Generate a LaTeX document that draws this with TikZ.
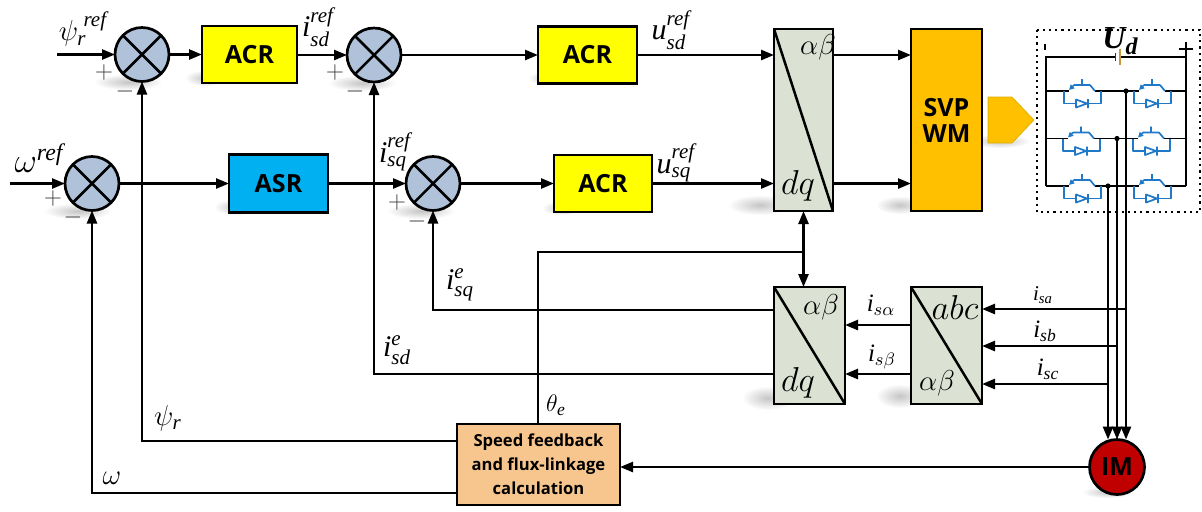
\documentclass[tikz,border=0pt]{standalone}
\usepackage{fontspec}
\usepackage{amsmath}
\newfontfamily\lblfont{Open Sans}
\newfontfamily\mi{Liberation Serif}
\newcommand\mt[1]{\text{\mi\itshape #1}}
\usetikzlibrary{arrows.meta,fadings,calc}
\definecolor{sumfill}{HTML}{AFC2DA}
\definecolor{conv}{HTML}{DCE2D3}
\definecolor{acrc}{HTML}{FFFF00}
\definecolor{asrc}{HTML}{00B0F0}
\definecolor{svpc}{HTML}{FFC000}
\definecolor{fbc}{HTML}{F7C68F}
\definecolor{imc}{HTML}{C00000}
\definecolor{igbtc}{HTML}{1F78C8}
\definecolor{batc}{HTML}{C49A3A}
\tikzfading[name=softf,inner color=transparent!55,outer color=transparent!100]
\tikzset{
  x=.5pt,y=-.5pt,
  wire/.style={line width=1.25pt,black},
  arr/.style={wire,-{Triangle[length=6.5pt,width=5pt]}},
  darr/.style={wire,{Triangle[length=6.5pt,width=5pt]}-{Triangle[length=6.5pt,width=5pt]}},
  block/.style={draw=black,line width=1.25pt,inner sep=0pt,outer sep=0pt,font=\lblfont\bfseries\fontsize{12.5}{14}\selectfont,align=center},
  sumj/.style={circle,draw=black,line width=1.35pt,fill=sumfill,minimum size=27pt,inner sep=0pt,outer sep=0pt,
    path picture={\draw[line width=1.25pt] (path picture bounding box.center) +(-20,-20) -- +(20,20) +(-20,20) -- +(20,-20);}},
  conv/.style={draw=black,line width=1.35pt,fill=conv,inner sep=0pt,outer sep=0pt,
    path picture={\draw[line width=1.25pt] (path picture bounding box.north west) -- (path picture bounding box.south east);}},
  mlab/.style={inner sep=0pt,font=\fontsize{15}{17}\selectfont},
  slab/.style={inner sep=0pt,font=\fontsize{12.5}{14}\selectfont},
  clab/.style={inner sep=0pt,font=\fontsize{17}{19}\selectfont},
  glab/.style={inner sep=0pt,font=\fontsize{14.5}{17}\selectfont},
  sign/.style={inner sep=0pt,text=black!75,font=\fontsize{12}{12}\selectfont},
  igbt/.style={igbtc,line width=.85pt,line join=round},
  rail/.style={line width=.9pt,black},
  shad/.style={black,path fading=softf,opacity=.5},
}
\newcommand\softsh[4]{\fill[shad] (#1,#2) ellipse [x radius=#3,y radius=#4];}
\newcommand\igbtunit[2]{%
  \draw[igbt] (#1,#2-12) -- (#1,#2-6) (#1-8,#2-6) -- (#1+8,#2-6) (#1+8,#2-6) -- (#1+13,#2);
  \draw[igbt,-{Triangle[length=2.6pt,width=2.6pt]}] (#1-8,#2-6) -- (#1-13,#2-1);
  \draw[igbt] (#1-18,#2) -- (#1-18,#2+12.5) -- (#1-6,#2+12.5) (#1+6,#2+12.5) -- (#1+19,#2+12.5) -- (#1+19,#2);
  \draw[igbt] (#1-6,#2+8.5) -- (#1-6,#2+16.5) -- (#1+5,#2+12.5) -- cycle (#1+6,#2+8) -- (#1+6,#2+17);
}
\begin{document}
\begin{tikzpicture}
\useasboundingbox (0,0) rectangle (1202,511);
% soft shadows
\softsh{128}{82}{34}{8}\softsh{362}{83}{34}{8}\softsh{78}{211}{34}{8}\softsh{421}{211}{34}{8}
\softsh{205}{78}{20}{8}\softsh{236}{207}{22}{8}\softsh{548}{78}{20}{7}\softsh{562}{208}{20}{7}
\softsh{760}{205}{32}{10}\softsh{900}{205}{24}{9}\softsh{1000}{141}{30}{7}\softsh{768}{398}{26}{12}\softsh{900}{396}{24}{12}
\softsh{1108}{492}{26}{6}
% blocks
\node[sumj] (s1) at (142,54.5) {};
\node[sumj] (s2) at (374,55) {};
\node[sumj] (s3) at (92,183.5) {};
\node[sumj] (s4) at (433,183.5) {};
\node[block,fill=acrc,minimum width=47.5pt,minimum height=28.5pt] (acr1) at (249.5,54.5) {ACR};
\node[block,fill=acrc,minimum width=49.5pt,minimum height=28.5pt] (acr2) at (587.5,55) {ACR};
\node[block,fill=acrc,minimum width=49pt,minimum height=28.5pt] (acr3) at (603,183.5) {ACR};
\node[block,fill=asrc,minimum width=49.5pt,minimum height=29pt] (asr) at (278.5,183.5) {ASR};
\node[conv,minimum width=29.5pt,minimum height=91pt] (dq1) at (803.5,120) {};
\node[block,fill=svpc,minimum width=35.5pt,minimum height=91pt] (svp) at (946.5,120) {SVP\\[-1pt]WM};
\node[conv,minimum width=35.5pt,minimum height=58.5pt] (dq2) at (809.5,345.5) {};
\node[conv,minimum width=35.5pt,minimum height=58.5pt] (abc) at (946.5,345.5) {};
\node[block,fill=fbc,minimum width=81.5pt,minimum height=40.5pt,font=\lblfont\bfseries\fontsize{8.3}{12}\selectfont] (fb) at (538.5,464.5) {Speed feedback\\and flux-linkage\\calculation};
\node[circle,draw=black,line width=1.35pt,fill=imc,minimum size=27.5pt,inner sep=0pt,outer sep=0pt,font=\lblfont\bfseries\fontsize{12.5}{14}\selectfont] (im) at (1117,467) {IM};
% converter labels
\node[glab] (l1) at (818,47) {$\alpha\beta$};
\node[clab] (l2) at (798,186) {$dq$};
\node[glab] (l3) at (821,307) {$\alpha\beta$};
\node[clab] (l4) at (798,383) {$dq$};
\node[clab] (l5) at (955,307) {$abc$};
\node[glab] (l6) at (937,383) {$\alpha\beta$};
% free ends
\coordinate (psiin) at (57,54.5);
\coordinate (omin) at (10,183.5);
\coordinate (tha) at (1126,309);
\coordinate (thb) at (1117,346);
\coordinate (thc) at (1108,384);
\coordinate (tj) at (804,252);
\coordinate (ta) at (1126,91);
\coordinate (tb) at (1117,138.5);
\coordinate (tc) at (1108,186);
% forward path
\draw[arr] (psiin) -- (s1);
\draw[arr] (s1) -- (acr1);
\draw[arr] (acr1.east |- s2) -- (s2);
\draw[arr] (s2) -- (acr2);
\draw[arr] (omin) -- (s3);
\draw[arr] (s3) -- (asr);
\draw[arr] (asr) -- (s4);
\draw[arr] (s4) -- (acr3);
\draw[arr] (acr2.east) -- (acr2.east -| dq1.west);
\draw[arr] (acr3.east) -- (acr3.east -| dq1.west);
\draw[arr] (acr2.east -| dq1.east) -- (acr2.east -| svp.west);
\draw[arr] (acr3.east -| dq1.east) -- (acr3.east -| svp.west);
% feedback
\draw[arr] (fb.west |- 0,441) -| (s1);
\draw[arr] (fb.west |- 0,493) -| (s3);
\draw[arr] (im) -- (fb.east |- im);
\draw[wire] (fb.north -| 538,0) |- (tj);
\draw[darr] (dq1.south) -- (dq1.south |- dq2.north);
\draw[arr] (dq2.west |- 0,310) -| (s4);
\draw[arr] (dq2.west |- 0,374) -| (s2);
\draw[arr] (abc.west |- 0,325) -- (dq2.east |- 0,325);
\draw[arr] (abc.west |- 0,374) -- (dq2.east |- 0,374);
\draw[arr] (tha) -- (tha -| abc.east);
\draw[arr] (thb) -- (thb -| abc.east);
\draw[arr] (thc) -- (thc -| abc.east);
\draw[arr] (ta) -- (ta |- im.north);
\draw[arr] (tb) -- (im.north);
\draw[arr] (tc) -- (tc |- im.north);
% inverter
\draw[black,line width=1.1pt,dotted] (1037,30) rectangle (1200,212);
\draw[rail] (1046,91) -- (1046,57) -- (1114.5,57) (1121,57) -- (1186,57) -- (1186,186);
\draw[rail] (1046,57) -- (1046,186);
\draw[rail] (1046,91) -- (1069,91) (1095,91) -- (1139,91) (1165,91) -- (1186,91);
\draw[rail] (1046,138.5) -- (1068,138.5) (1094,138.5) -- (1138,138.5) (1164,138.5) -- (1186,138.5);
\draw[rail] (1046,186) -- (1069,186) (1095,186) -- (1139,186) (1165,186) -- (1186,186);
\fill (ta) circle [radius=2.6] (tb) circle [radius=2.6] (tc) circle [radius=2.6];
\igbtunit{1082}{91}\igbtunit{1152}{91}
\igbtunit{1081}{138.5}\igbtunit{1151}{138.5}
\igbtunit{1082}{186}\igbtunit{1152}{186}
\fill[black!80] (1114.5,53) rectangle (1115.7,61);
\fill[batc] (1119,49) rectangle (1121,65);
\node[inner sep=0pt,font=\mi\bfseries\itshape\fontsize{16}{17}\selectfont] (ud) at (1120,41) {U\raisebox{-3pt}{\fontsize{12}{12}\selectfont d}};
\draw[black,line width=1pt] (1044.5,44) -- (1044.5,50);
\draw[black,line width=1pt] (1179,49) -- (1193,49) (1186,42) -- (1186,56);
% output arrow
\fill[svpc,draw=svpc!70!olive,line width=.3pt] (988,97) -- (1012,97) -- (1034,120) -- (1012,143) -- (988,143) -- cycle;
% labels
\node[mlab] (t1) at (83,29) {$\psi_{\mt{r}}^{\mt{ ref}}$};
\node[mlab] (t2) at (318,27) {$\mt{i}_{\mt{sd}}^{\mt{ref}}$};
\node[mlab] (t3) at (671,30) {$\mt{u}_{\mt{sd}}^{\mt{ref}}$};
\node[mlab] (t4) at (395,152) {$\mt{i}_{\mt{sq}}^{\mt{ref}}$};
\node[mlab] (t5) at (676,163) {$\mt{u}_{\mt{sq}}^{\mt{ref}}$};
\node[mlab,font=\fontsize{17}{19}\selectfont] (t6) at (39,158) {$\omega^{\mt{ref}}$};
\node[mlab] (t7) at (460,285) {$\mt{i}_{\mt{sq}}^{\mt{e}}$};
\node[mlab] (t8) at (397,350) {$\mt{i}_{\mt{sd}}^{\mt{e}}$};
\node[mlab] (t9) at (168,418) {$\psi_{\mt{r}}$};
\node[mlab] (t10) at (112,478) {$\omega$};
\node[slab] (t11) at (556,405) {$\theta_{\mt{e}}$};
\node[slab] (t12) at (881,305) {$\mt{i}_{s\alpha}$};
\node[slab] (t13) at (882,357) {$\mt{i}_{s\beta}$};
\node[slab,font=\fontsize{10.5}{12}\selectfont] (t14) at (1043,295) {$\mt{i}_{\mt{sa}}$};
\node[slab] (t15) at (1045,331) {$\mt{i}_{\mt{sb}}$};
\node[slab] (t16) at (1048,369) {$\mt{i}_{\mt{sc}}$};
\node[sign] (p1) at (104,72) {$+$};
\node[sign] (m1) at (125,91) {$-$};
\node[sign] (p2) at (335,72) {$+$};
\node[sign] (m2) at (355,91) {$-$};
\node[sign] (p3) at (53,198) {$+$};
\node[sign] (m3) at (73,217) {$-$};
\node[sign] (p4) at (397,202) {$+$};
\node[sign] (m4) at (417,221) {$-$};
\end{tikzpicture}
\end{document}
